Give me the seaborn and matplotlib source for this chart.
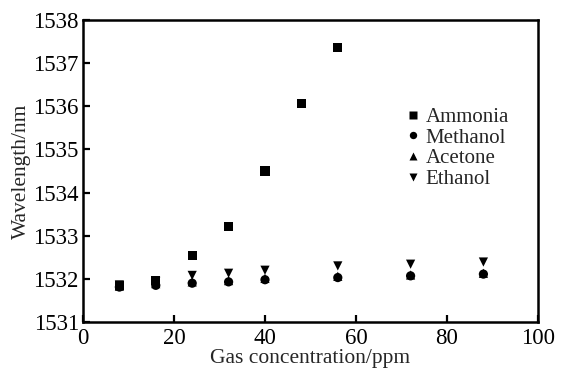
import matplotlib
matplotlib.use("Agg")
import matplotlib.pyplot as plt
import seaborn as sns
import pandas as pd

# Gas concentration (ppm) and resonance wavelength (nm) for each gas
conc_ammonia = [8, 16, 24, 32, 40, 48, 56]
wl_ammonia = [1531.85, 1531.97, 1532.55, 1533.21, 1534.50, 1536.07, 1537.37]

conc_other = [8, 16, 24, 32, 40, 56, 72, 88]
wl_methanol = [1531.81, 1531.85, 1531.90, 1531.93, 1531.98, 1532.03, 1532.07, 1532.11]
wl_acetone = [1531.83, 1531.89, 1531.93, 1531.96, 1532.01, 1532.06, 1532.09, 1532.13]
wl_ethanol = [1531.86, 1531.94, 1532.08, 1532.13, 1532.20, 1532.30, 1532.34, 1532.39]

gases = ["Ammonia", "Methanol", "Acetone", "Ethanol"]
marker_map = {"Ammonia": "s", "Methanol": "o", "Acetone": "^", "Ethanol": "v"}

x_ticks = [0, 20, 40, 60, 80, 100]
y_ticks = [1531, 1532, 1533, 1534, 1535, 1536, 1537, 1538]

frames = [pd.DataFrame({"conc": conc_ammonia, "wl": wl_ammonia, "gas": "Ammonia"})]
for name, vals in zip(gases[1:], [wl_methanol, wl_acetone, wl_ethanol]):
    frames.append(pd.DataFrame({"conc": conc_other, "wl": vals, "gas": name}))
df = pd.concat(frames, ignore_index=True)

sns.set_theme(style="ticks")
plt.rcParams["font.family"] = ["Liberation Serif", "DejaVu Serif"]

fig = plt.figure(figsize=(5.63, 3.70), dpi=100)
ax = fig.add_axes([0.1474, 0.1297, 0.8082, 0.8163])

sns.scatterplot(data=df, x="conc", y="wl", style="gas", style_order=gases,
                markers=marker_map, color="black", s=44, edgecolor="none",
                ax=ax, legend=True)

ax.set_xlim(0, 100)
ax.set_ylim(1531, 1538)
ax.set_xticks(x_ticks)
ax.set_yticks(y_ticks)
ax.tick_params(direction="in", length=5, width=1.6, labelsize=16.5,
               colors="black")
ax.tick_params(axis="y", pad=3)
ax.tick_params(axis="x", pad=4)
for sp in ax.spines.values():
    sp.set_linewidth(1.8)
    sp.set_color("black")

ax.set_xlabel("Gas concentration/ppm", fontsize=15.5, labelpad=0)
ax.set_ylabel("Wavelength/nm", fontsize=15.5, labelpad=2)

handles, labels = ax.get_legend_handles_labels()
leg = ax.legend(handles, labels, loc="upper left", bbox_to_anchor=(0.703, 0.724),
                frameon=False, fontsize=15, handlelength=0.6, handletextpad=0.3,
                labelspacing=0.05, borderpad=0.2, borderaxespad=0.0,
                markerscale=0.8)

fig.savefig("out.png", dpi=100, facecolor="white")
